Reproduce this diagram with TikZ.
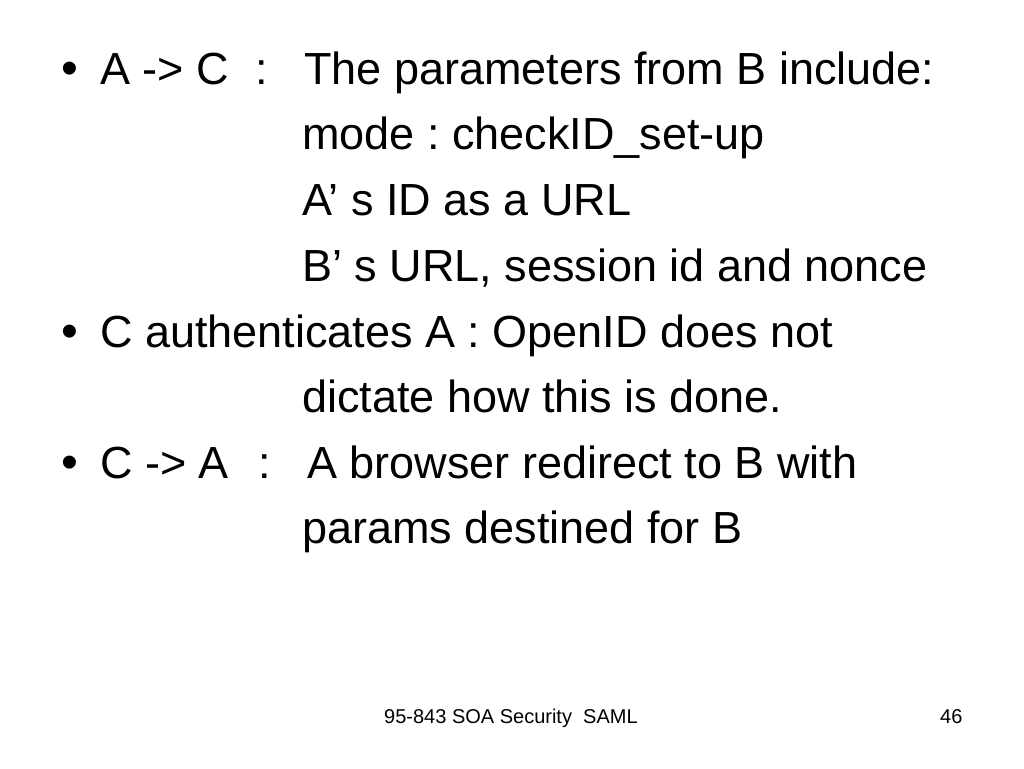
\documentclass[tikz,border=0pt]{standalone}
\usepackage{fontspec}
\setmainfont{Liberation Sans}
\frenchspacing
\tikzset{
  txt/.style={anchor=base west, inner sep=0pt, font=\fontsize{45}{54}\selectfont},
  bul/.style={anchor=base, inner sep=0pt, font=\fontsize{48}{54}\selectfont},
  foot/.style={anchor=base west, inner sep=0pt, font=\fontsize{20}{24}\selectfont}
}
\begin{document}
\begin{tikzpicture}[x=1pt,y=-1pt]
\useasboundingbox[fill=white] (0,0) rectangle (1024,768);
% bullet 1
\node[bul] (b1) at (69.5,84) {•};
\node[txt] (l1a) at (100,84) {A -> C};
\node[txt] (l1b) at (255,84) {:};
\node[txt] (l1c) at (304,84) {The parameters from B include:};
\node[txt] (l2) at (302,149) {mode : checkID\_set-up};
\node[txt] (l3) at (302,215) {A’ s ID as a URL};
\node[txt] (l4) at (302,281) {B’ s URL, session id and nonce};
% bullet 2
\node[bul] (b2) at (69.5,347) {•};
\node[txt] (l5) at (100,347) {C authenticates A : OpenID does not};
\node[txt] (l6) at (302,412) {dictate how this is done.};
% bullet 3
\node[bul] (b3) at (69.5,478) {•};
\node[txt] (l7a) at (100,478) {C -> A};
\node[txt] (l7b) at (258,478) {:};
\node[txt] (l7c) at (307,478) {A browser redirect to B with};
\node[txt] (l8) at (302,543) {params destined for B};
% footer
\node[foot] (f1) at (384,723) {95-843 SOA Security\ \ SAML};
\node[foot] (f2) at (940,723) {46};
\end{tikzpicture}
\end{document}
